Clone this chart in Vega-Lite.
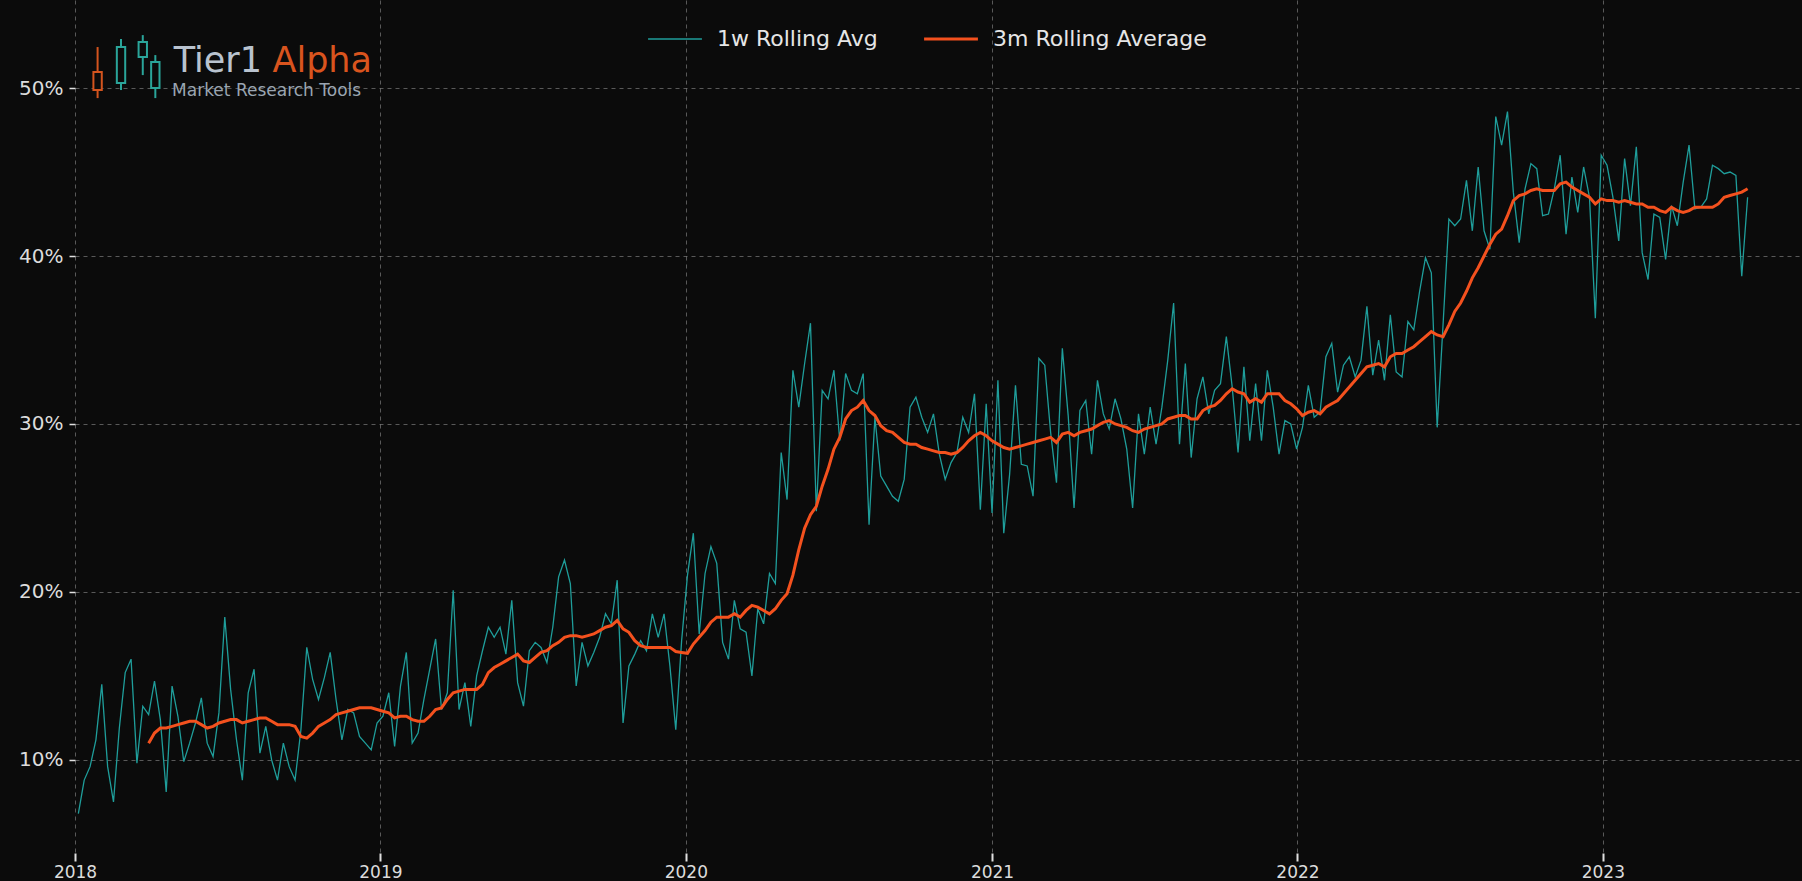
{
  "$schema": "https://vega.github.io/schema/vega-lite/v6.json",
  "width": 1727,
  "height": 853,
  "autosize": {"type": "none"},
  "padding": {"left": 75, "top": 0, "right": 0, "bottom": 28},
  "background": "#0b0b0b",
  "config": {
    "view": {"stroke": null},
    "font": "DejaVu Sans",
    "axis": {"domain": false, "grid": true, "gridColor": "#a8a8a8", "gridOpacity": 0.5, "gridDash": [4, 4], "gridWidth": 1, "tickColor": "#e0e0e0", "labelColor": "#dcdcdc", "title": null}
  },
  "datasets": {
    "s": [
      {"d":"2018-01-05","w":6.8},{"d":"2018-01-12","w":8.8},{"d":"2018-01-19","w":9.6},{"d":"2018-01-26","w":11.2},
      {"d":"2018-02-02","w":14.5},{"d":"2018-02-09","w":9.6},{"d":"2018-02-16","w":7.5},{"d":"2018-02-23","w":11.9},
      {"d":"2018-03-02","w":15.2},{"d":"2018-03-09","w":16.0},{"d":"2018-03-16","w":9.8},{"d":"2018-03-23","w":13.2},
      {"d":"2018-03-30","w":12.7,"m":11.0},{"d":"2018-04-06","w":14.7,"m":11.6},{"d":"2018-04-13","w":12.4,"m":11.9},{"d":"2018-04-20","w":8.1,"m":11.9},
      {"d":"2018-04-27","w":14.4,"m":12.0},{"d":"2018-05-04","w":12.6,"m":12.1},{"d":"2018-05-11","w":9.9,"m":12.2},{"d":"2018-05-18","w":11.0,"m":12.3},
      {"d":"2018-05-25","w":12.2,"m":12.3},{"d":"2018-06-01","w":13.7,"m":12.1},{"d":"2018-06-08","w":11.0,"m":11.9},{"d":"2018-06-15","w":10.2,"m":12.0},
      {"d":"2018-06-22","w":12.8,"m":12.2},{"d":"2018-06-29","w":18.5,"m":12.3},{"d":"2018-07-06","w":14.2,"m":12.4},{"d":"2018-07-13","w":11.2,"m":12.4},
      {"d":"2018-07-20","w":8.8,"m":12.2},{"d":"2018-07-27","w":14.0,"m":12.3},{"d":"2018-08-03","w":15.4,"m":12.4},{"d":"2018-08-10","w":10.4,"m":12.5},
      {"d":"2018-08-17","w":12.0,"m":12.5},{"d":"2018-08-24","w":10.0,"m":12.3},{"d":"2018-08-31","w":8.8,"m":12.1},{"d":"2018-09-07","w":11.0,"m":12.1},
      {"d":"2018-09-14","w":9.6,"m":12.1},{"d":"2018-09-21","w":8.8,"m":12.0},{"d":"2018-09-28","w":11.8,"m":11.4},{"d":"2018-10-05","w":16.7,"m":11.3},
      {"d":"2018-10-12","w":14.8,"m":11.6},{"d":"2018-10-19","w":13.6,"m":12.0},{"d":"2018-10-26","w":14.9,"m":12.2},{"d":"2018-11-02","w":16.4,"m":12.4},
      {"d":"2018-11-09","w":13.6,"m":12.7},{"d":"2018-11-16","w":11.2,"m":12.8},{"d":"2018-11-23","w":13.0,"m":12.9},{"d":"2018-11-30","w":12.8,"m":13.0},
      {"d":"2018-12-07","w":11.4,"m":13.1},{"d":"2018-12-14","w":11.0,"m":13.1},{"d":"2018-12-21","w":10.6,"m":13.1},{"d":"2018-12-28","w":12.2,"m":13.0},
      {"d":"2019-01-04","w":12.6,"m":12.9},{"d":"2019-01-11","w":14.0,"m":12.8},{"d":"2019-01-18","w":10.8,"m":12.5},{"d":"2019-01-25","w":14.4,"m":12.6},
      {"d":"2019-02-01","w":16.4,"m":12.6},{"d":"2019-02-08","w":11.0,"m":12.4},{"d":"2019-02-15","w":11.6,"m":12.3},{"d":"2019-02-22","w":13.6,"m":12.3},
      {"d":"2019-03-01","w":15.4,"m":12.6},{"d":"2019-03-08","w":17.2,"m":13.0},{"d":"2019-03-15","w":13.0,"m":13.1},{"d":"2019-03-22","w":14.0,"m":13.6},
      {"d":"2019-03-29","w":20.1,"m":14.0},{"d":"2019-04-05","w":13.0,"m":14.1},{"d":"2019-04-12","w":14.6,"m":14.2},{"d":"2019-04-19","w":12.0,"m":14.2},
      {"d":"2019-04-26","w":15.0,"m":14.2},{"d":"2019-05-03","w":16.5,"m":14.5},{"d":"2019-05-10","w":17.9,"m":15.2},{"d":"2019-05-17","w":17.3,"m":15.5},
      {"d":"2019-05-24","w":17.9,"m":15.7},{"d":"2019-05-31","w":16.3,"m":15.9},{"d":"2019-06-07","w":19.5,"m":16.1},{"d":"2019-06-14","w":14.6,"m":16.3},
      {"d":"2019-06-21","w":13.2,"m":15.9},{"d":"2019-06-28","w":16.5,"m":15.8},{"d":"2019-07-05","w":17.0,"m":16.1},{"d":"2019-07-12","w":16.7,"m":16.4},
      {"d":"2019-07-19","w":15.8,"m":16.5},{"d":"2019-07-26","w":17.9,"m":16.8},{"d":"2019-08-02","w":20.9,"m":17.0},{"d":"2019-08-09","w":21.9,"m":17.3},
      {"d":"2019-08-16","w":20.5,"m":17.4},{"d":"2019-08-23","w":14.4,"m":17.4},{"d":"2019-08-30","w":17.0,"m":17.3},{"d":"2019-09-06","w":15.6,"m":17.4},
      {"d":"2019-09-13","w":16.4,"m":17.5},{"d":"2019-09-20","w":17.3,"m":17.7},{"d":"2019-09-27","w":18.7,"m":17.9},{"d":"2019-10-04","w":18.1,"m":18.0},
      {"d":"2019-10-11","w":20.7,"m":18.3},{"d":"2019-10-18","w":12.2,"m":17.8},{"d":"2019-10-25","w":15.6,"m":17.6},{"d":"2019-11-01","w":16.3,"m":17.1},
      {"d":"2019-11-08","w":17.1,"m":16.8},{"d":"2019-11-15","w":16.5,"m":16.7},{"d":"2019-11-22","w":18.7,"m":16.7},{"d":"2019-11-29","w":17.3,"m":16.7},
      {"d":"2019-12-06","w":18.7,"m":16.7},{"d":"2019-12-13","w":15.6,"m":16.7},{"d":"2019-12-20","w":11.8,"m":16.45},{"d":"2019-12-27","w":17.1,"m":16.4},
      {"d":"2020-01-03","w":21.0,"m":16.35},{"d":"2020-01-10","w":23.5,"m":16.9},{"d":"2020-01-17","w":17.5,"m":17.3},{"d":"2020-01-24","w":21.1,"m":17.7},
      {"d":"2020-01-31","w":22.7,"m":18.2},{"d":"2020-02-07","w":21.7,"m":18.5},{"d":"2020-02-14","w":17.0,"m":18.5},{"d":"2020-02-21","w":16.0,"m":18.5},
      {"d":"2020-02-28","w":19.5,"m":18.7},{"d":"2020-03-06","w":17.8,"m":18.5},{"d":"2020-03-13","w":17.6,"m":18.9},{"d":"2020-03-20","w":15.0,"m":19.2},
      {"d":"2020-03-27","w":19.0,"m":19.1},{"d":"2020-04-03","w":18.1,"m":18.9},{"d":"2020-04-10","w":21.1,"m":18.7},{"d":"2020-04-17","w":20.5,"m":19.0},
      {"d":"2020-04-24","w":28.3,"m":19.5},{"d":"2020-05-01","w":25.5,"m":19.9},{"d":"2020-05-08","w":33.2,"m":21.0},{"d":"2020-05-15","w":31.0,"m":22.5},
      {"d":"2020-05-22","w":33.6,"m":23.8},{"d":"2020-05-29","w":36.0,"m":24.6},{"d":"2020-06-05","w":24.8,"m":25.1},{"d":"2020-06-12","w":32.0,"m":26.3},
      {"d":"2020-06-19","w":31.5,"m":27.3},{"d":"2020-06-26","w":33.2,"m":28.5},{"d":"2020-07-03","w":29.0,"m":29.2},{"d":"2020-07-10","w":33.0,"m":30.3},
      {"d":"2020-07-17","w":32.0,"m":30.8},{"d":"2020-07-24","w":31.8,"m":31.0},{"d":"2020-07-31","w":33.0,"m":31.4},{"d":"2020-08-07","w":24.0,"m":30.8},
      {"d":"2020-08-14","w":30.4,"m":30.5},{"d":"2020-08-21","w":26.9,"m":29.9},{"d":"2020-08-28","w":26.3,"m":29.6},{"d":"2020-09-04","w":25.7,"m":29.5},
      {"d":"2020-09-11","w":25.4,"m":29.2},{"d":"2020-09-18","w":26.7,"m":28.9},{"d":"2020-09-25","w":31.0,"m":28.8},{"d":"2020-10-02","w":31.6,"m":28.8},
      {"d":"2020-10-09","w":30.4,"m":28.6},{"d":"2020-10-16","w":29.5,"m":28.5},{"d":"2020-10-23","w":30.6,"m":28.4},{"d":"2020-10-30","w":28.2,"m":28.3},
      {"d":"2020-11-06","w":26.7,"m":28.3},{"d":"2020-11-13","w":27.7,"m":28.2},{"d":"2020-11-20","w":28.3,"m":28.3},{"d":"2020-11-27","w":30.4,"m":28.6},
      {"d":"2020-12-04","w":29.5,"m":29.0},{"d":"2020-12-11","w":31.8,"m":29.3},{"d":"2020-12-18","w":24.9,"m":29.5},{"d":"2020-12-25","w":31.2,"m":29.3},
      {"d":"2021-01-01","w":24.7,"m":29.0},{"d":"2021-01-08","w":32.6,"m":28.8},{"d":"2021-01-15","w":23.5,"m":28.6},{"d":"2021-01-22","w":27.0,"m":28.5},
      {"d":"2021-01-29","w":32.3,"m":28.6},{"d":"2021-02-05","w":27.6,"m":28.7},{"d":"2021-02-12","w":27.5,"m":28.8},{"d":"2021-02-19","w":25.7,"m":28.9},
      {"d":"2021-02-26","w":33.9,"m":29.0},{"d":"2021-03-05","w":33.5,"m":29.1},{"d":"2021-03-12","w":29.5,"m":29.2},{"d":"2021-03-19","w":26.5,"m":28.9},
      {"d":"2021-03-26","w":34.5,"m":29.4},{"d":"2021-04-02","w":30.5,"m":29.5},{"d":"2021-04-09","w":25.0,"m":29.3},{"d":"2021-04-16","w":30.8,"m":29.5},
      {"d":"2021-04-23","w":31.4,"m":29.6},{"d":"2021-04-30","w":28.2,"m":29.7},{"d":"2021-05-07","w":32.6,"m":29.9},{"d":"2021-05-14","w":30.6,"m":30.1},
      {"d":"2021-05-21","w":29.7,"m":30.2},{"d":"2021-05-28","w":31.5,"m":30.0},{"d":"2021-06-04","w":30.3,"m":29.9},{"d":"2021-06-11","w":28.5,"m":29.8},
      {"d":"2021-06-18","w":25.0,"m":29.6},{"d":"2021-06-25","w":30.6,"m":29.5},{"d":"2021-07-02","w":28.2,"m":29.7},{"d":"2021-07-09","w":31.0,"m":29.8},
      {"d":"2021-07-16","w":28.8,"m":29.9},{"d":"2021-07-23","w":31.0,"m":30.0},{"d":"2021-07-30","w":33.8,"m":30.3},{"d":"2021-08-06","w":37.2,"m":30.4},
      {"d":"2021-08-13","w":28.8,"m":30.5},{"d":"2021-08-20","w":33.6,"m":30.5},{"d":"2021-08-27","w":28.0,"m":30.3},{"d":"2021-09-03","w":31.5,"m":30.3},
      {"d":"2021-09-10","w":32.8,"m":30.8},{"d":"2021-09-17","w":30.6,"m":31.0},{"d":"2021-09-24","w":32.0,"m":31.1},{"d":"2021-10-01","w":32.4,"m":31.4},
      {"d":"2021-10-08","w":35.2,"m":31.8},{"d":"2021-10-15","w":32.2,"m":32.1},{"d":"2021-10-22","w":28.3,"m":31.9},{"d":"2021-10-29","w":33.4,"m":31.8},
      {"d":"2021-11-05","w":29.0,"m":31.3},{"d":"2021-11-12","w":32.4,"m":31.5},{"d":"2021-11-19","w":29.0,"m":31.3},{"d":"2021-11-26","w":33.2,"m":31.8},
      {"d":"2021-12-03","w":31.0,"m":31.8},{"d":"2021-12-10","w":28.2,"m":31.8},{"d":"2021-12-17","w":30.2,"m":31.4},{"d":"2021-12-24","w":30.0,"m":31.2},
      {"d":"2021-12-31","w":28.5,"m":30.9},{"d":"2022-01-07","w":29.8,"m":30.5},{"d":"2022-01-14","w":32.3,"m":30.7},{"d":"2022-01-21","w":30.4,"m":30.8},
      {"d":"2022-01-28","w":30.7,"m":30.6},{"d":"2022-02-04","w":34.0,"m":31.0},{"d":"2022-02-11","w":34.8,"m":31.2},{"d":"2022-02-18","w":31.9,"m":31.4},
      {"d":"2022-02-25","w":33.5,"m":31.8},{"d":"2022-03-04","w":34.0,"m":32.2},{"d":"2022-03-11","w":32.8,"m":32.6},{"d":"2022-03-18","w":33.8,"m":33.0},
      {"d":"2022-03-25","w":37.0,"m":33.4},{"d":"2022-04-01","w":32.9,"m":33.5},{"d":"2022-04-08","w":35.0,"m":33.6},{"d":"2022-04-15","w":32.6,"m":33.4},
      {"d":"2022-04-22","w":36.5,"m":34.0},{"d":"2022-04-29","w":33.1,"m":34.2},{"d":"2022-05-06","w":32.8,"m":34.2},{"d":"2022-05-13","w":36.1,"m":34.4},
      {"d":"2022-05-20","w":35.6,"m":34.6},{"d":"2022-05-27","w":37.9,"m":34.9},{"d":"2022-06-03","w":39.9,"m":35.2},{"d":"2022-06-10","w":39.0,"m":35.5},
      {"d":"2022-06-17","w":29.8,"m":35.3},{"d":"2022-06-24","w":35.9,"m":35.2},{"d":"2022-07-01","w":42.2,"m":35.9},{"d":"2022-07-08","w":41.8,"m":36.7},
      {"d":"2022-07-15","w":42.2,"m":37.2},{"d":"2022-07-22","w":44.5,"m":37.9},{"d":"2022-07-29","w":41.5,"m":38.7},{"d":"2022-08-05","w":45.3,"m":39.3},
      {"d":"2022-08-12","w":41.5,"m":40.0},{"d":"2022-08-19","w":40.4,"m":40.7},{"d":"2022-08-26","w":48.3,"m":41.3},{"d":"2022-09-02","w":46.6,"m":41.6},
      {"d":"2022-09-09","w":48.6,"m":42.4},{"d":"2022-09-16","w":43.8,"m":43.3},{"d":"2022-09-23","w":40.8,"m":43.6},{"d":"2022-09-30","w":44.0,"m":43.7},
      {"d":"2022-10-07","w":45.5,"m":43.9},{"d":"2022-10-14","w":45.2,"m":44.0},{"d":"2022-10-21","w":42.4,"m":43.9},{"d":"2022-10-28","w":42.5,"m":43.9},
      {"d":"2022-11-04","w":44.0,"m":43.9},{"d":"2022-11-11","w":46.0,"m":44.3},{"d":"2022-11-18","w":41.3,"m":44.4},{"d":"2022-11-25","w":44.7,"m":44.1},
      {"d":"2022-12-02","w":42.6,"m":43.9},{"d":"2022-12-09","w":45.3,"m":43.7},{"d":"2022-12-16","w":43.5,"m":43.5},{"d":"2022-12-23","w":36.3,"m":43.1},
      {"d":"2022-12-30","w":46.0,"m":43.4},{"d":"2023-01-06","w":45.4,"m":43.3},{"d":"2023-01-13","w":43.5,"m":43.3},{"d":"2023-01-20","w":40.9,"m":43.2},
      {"d":"2023-01-27","w":45.8,"m":43.3},{"d":"2023-02-03","w":43.0,"m":43.2},{"d":"2023-02-10","w":46.5,"m":43.1},{"d":"2023-02-17","w":40.2,"m":43.1},
      {"d":"2023-02-24","w":38.6,"m":42.9},{"d":"2023-03-03","w":42.5,"m":42.9},{"d":"2023-03-10","w":42.3,"m":42.7},{"d":"2023-03-17","w":39.8,"m":42.6},
      {"d":"2023-03-24","w":43.0,"m":42.9},{"d":"2023-03-31","w":41.8,"m":42.7},{"d":"2023-04-07","w":44.4,"m":42.6},{"d":"2023-04-14","w":46.6,"m":42.7},
      {"d":"2023-04-21","w":42.8,"m":42.9},{"d":"2023-04-28","w":42.9,"m":42.9},{"d":"2023-05-05","w":43.4,"m":42.9},{"d":"2023-05-12","w":45.4,"m":42.9},
      {"d":"2023-05-19","w":45.2,"m":43.1},{"d":"2023-05-26","w":44.9,"m":43.5},{"d":"2023-06-02","w":45.0,"m":43.6},{"d":"2023-06-09","w":44.8,"m":43.7},
      {"d":"2023-06-16","w":38.8,"m":43.8},{"d":"2023-06-23","w":43.5,"m":44.0}
    ],
    "logo": [
      {"d":"2018-01-28","lo":49.40,"hi":52.44,"b0":49.88,"b1":50.95,"s0":"2018-01-23","s1":"2018-02-02","k":"down"},
      {"d":"2018-02-25","lo":49.88,"hi":52.92,"b0":50.30,"b1":52.44,"s0":"2018-02-20","s1":"2018-03-02","k":"up"},
      {"d":"2018-03-23","lo":50.77,"hi":53.15,"b0":51.85,"b1":52.74,"s0":"2018-03-18","s1":"2018-03-28","k":"up"},
      {"d":"2018-04-07","lo":49.40,"hi":51.96,"b0":50.00,"b1":51.55,"s0":"2018-04-02","s1":"2018-04-12","k":"up"}
    ]
  },
  "layer": [
    {
      "data": {"name": "s"},
      "mark": {"type": "line", "strokeWidth": 1.3},
      "encoding": {
        "x": {"field": "d", "type": "temporal",
              "scale": {"type": "utc", "domain": [{"year": 2018, "month": 1, "date": 1, "utc": true}, {"year": 2023, "month": 8, "date": 27, "utc": true}]},
              "axis": {"tickCount": {"interval": "year", "step": 1}, "format": "%Y", "labelFontSize": 17, "tickSize": 8, "tickWidth": 2, "labelPadding": 3, "labelFlush": false}},
        "y": {"field": "w", "type": "quantitative",
              "scale": {"domain": [4.46, 55.24], "nice": false, "zero": false},
              "axis": {"values": [10, 20, 30, 40, 50], "labelExpr": "datum.value + '%'", "labelFontSize": 20, "tickSize": 6, "tickWidth": 1.5, "labelPadding": 6}},
        "color": {"datum": "1w Rolling Avg", "type": "nominal",
                  "scale": {"domain": ["1w Rolling Avg", "3m Rolling Average"], "range": ["#1f9e9b", "#f4511e"]},
                  "legend": {"orient": "none", "legendX": 589, "legendY": 28, "direction": "horizontal", "title": null,
                             "symbolType": "stroke", "symbolSize": 2900, "symbolStrokeWidth": 2,
                             "labelFontSize": 22, "labelColor": "#e6e6e6", "labelOffset": 31, "labelLimit": 400, "columnPadding": 40,
                             "encode": {"symbols": {"update": {"strokeWidth": {"signal": "datum.value === '3m Rolling Average' ? 3 : 1.5"}}}}}}
      }
    },
    {
      "data": {"name": "s"},
      "mark": {"type": "line", "strokeWidth": 3},
      "encoding": {
        "x": {"field": "d", "type": "temporal"},
        "y": {"field": "m", "type": "quantitative"},
        "color": {"datum": "3m Rolling Average", "type": "nominal"}
      }
    },
    {
      "data": {"name": "logo"},
      "mark": {"type": "rule", "strokeWidth": 2},
      "encoding": {
        "x": {"field": "d", "type": "temporal"},
        "y": {"field": "lo", "type": "quantitative"},
        "y2": {"field": "hi"},
        "stroke": {"field": "k", "type": "nominal", "scale": {"domain": ["down", "up"], "range": ["#d4541e", "#2aa59a"]}, "legend": null}
      }
    },
    {
      "data": {"name": "logo"},
      "mark": {"type": "rect", "strokeWidth": 2, "fill": "#0b0b0b"},
      "encoding": {
        "x": {"field": "s0", "type": "temporal"},
        "x2": {"field": "s1"},
        "y": {"field": "b0", "type": "quantitative"},
        "y2": {"field": "b1"},
        "stroke": {"field": "k", "type": "nominal", "legend": null}
      }
    },
    {
      "data": {"values": [{}]},
      "mark": {"type": "text", "text": "Tier1", "align": "left", "baseline": "alphabetic", "fontSize": 35, "color": "#b9c3cf"},
      "encoding": {
        "x": {"datum": {"year": 2018, "month": 4, "date": 29, "utc": true}, "type": "temporal"},
        "y": {"datum": 50.95, "type": "quantitative"}
      }
    },
    {
      "data": {"values": [{}]},
      "mark": {"type": "text", "text": "Alpha", "align": "left", "baseline": "alphabetic", "fontSize": 35, "color": "#d9541e"},
      "encoding": {
        "x": {"datum": {"year": 2018, "month": 8, "date": 25, "utc": true}, "type": "temporal"},
        "y": {"datum": 50.95, "type": "quantitative"}
      }
    },
    {
      "data": {"values": [{}]},
      "mark": {"type": "text", "text": "Market Research Tools", "align": "left", "baseline": "alphabetic", "fontSize": 17, "color": "#9aa5b1"},
      "encoding": {
        "x": {"datum": {"year": 2018, "month": 4, "date": 27, "utc": true}, "type": "temporal"},
        "y": {"datum": 49.52, "type": "quantitative"}
      }
    }
  ]
}
